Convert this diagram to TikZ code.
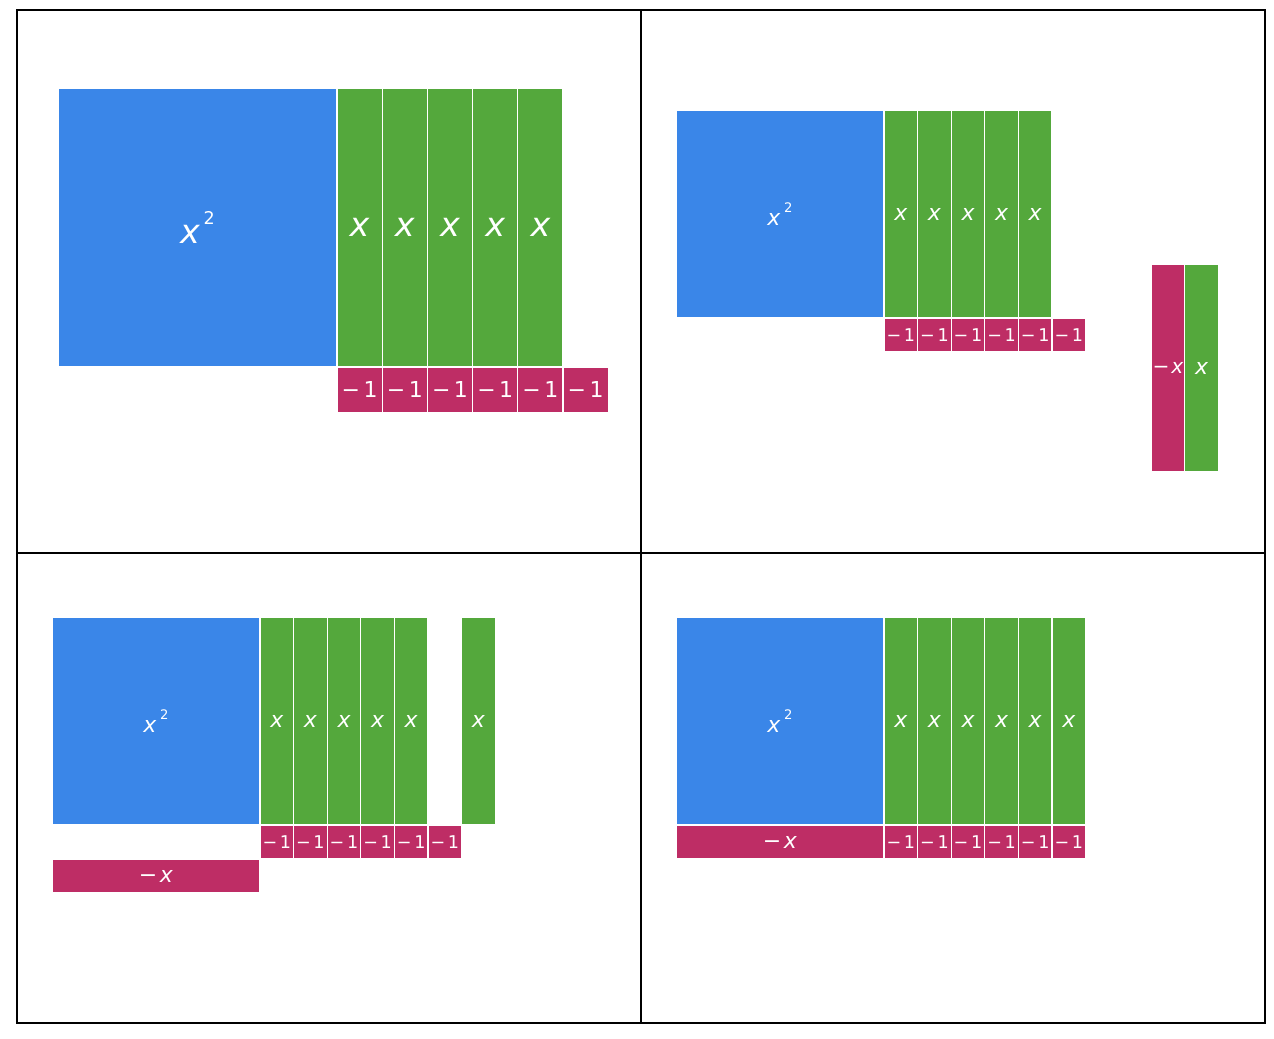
\documentclass[tikz,border=0pt]{standalone}
\usepackage{fontspec}
\setmainfont{DejaVu Sans}
\definecolor{tileblue}{RGB}{58,134,232}
\definecolor{tilegreen}{RGB}{84,168,60}
\definecolor{tilered}{RGB}{190,45,101}
\newcommand{\xsqlab}[3]{\textit{x}\hspace{2pt}\raisebox{#3}{\fontsize{#1}{#1}\selectfont\upshape #2}}
\begin{document}
\begin{tikzpicture}[x=0.02cm,y=-0.02cm,
  tile/.style={draw=white,line width=0.6pt,inner sep=0pt,text=white},
  bigsq/.style={tile,fill=tileblue,minimum width=5.58cm,minimum height=5.58cm,font=\fontsize{19}{19}\selectfont},
  bigx/.style={tile,fill=tilegreen,minimum width=0.904cm,minimum height=5.58cm,font=\fontsize{19}{19}\selectfont\itshape},
  bigone/.style={tile,fill=tilered,minimum width=0.904cm,minimum height=0.904cm,font=\fontsize{12.5}{12.5}\selectfont},
  sq/.style={tile,fill=tileblue,minimum width=4.16cm,minimum height=4.16cm,font=\fontsize{12.5}{12.5}\selectfont},
  xbar/.style={tile,fill=tilegreen,minimum width=0.672cm,minimum height=4.16cm,font=\fontsize{12.5}{12.5}\selectfont\itshape},
  one/.style={tile,fill=tilered,minimum width=0.672cm,minimum height=0.672cm,font=\fontsize{10}{10}\selectfont},
  negxh/.style={tile,fill=tilered,minimum width=4.16cm,minimum height=0.672cm,font=\fontsize{12.5}{12.5}\selectfont},
  negxv/.style={tile,fill=tilered,minimum width=0.672cm,minimum height=4.16cm,font=\fontsize{11.5}{11.5}\selectfont}]

\useasboundingbox (0,0) rectangle (1274,1038);

% frame
\draw[line width=1.2pt] (17,10) rectangle (1265,1023);
\coordinate (top) at (641,10);
\coordinate (bot) at (641,1023);
\coordinate (lft) at (17,553);
\coordinate (rgt) at (1265,553);
\draw[line width=1.2pt] (top) -- (bot);
\draw[line width=1.2pt] (lft) -- (rgt);

% top left
\node[bigsq] (sqa) at (197.5,227.5) {\xsqlab{10}{2}{11pt}};
\node[bigx] (x1a) at (359.6,227.5) {x};
\node[bigx] (x2a) at (404.8,227.5) {x};
\node[bigx] (x3a) at (450,227.5) {x};
\node[bigx] (x4a) at (495.2,227.5) {x};
\node[bigx] (x5a) at (540.4,227.5) {x};
\node[bigone] (o1a) at (359.6,389.6) {−\kern2pt1};
\node[bigone] (o2a) at (404.8,389.6) {−\kern2pt1};
\node[bigone] (o3a) at (450,389.6) {−\kern2pt1};
\node[bigone] (o4a) at (495.2,389.6) {−\kern2pt1};
\node[bigone] (o5a) at (540.4,389.6) {−\kern2pt1};
\node[bigone] (o6a) at (585.6,389.6) {−\kern2pt1};

% top right
\node[sq] (sqb) at (780,214) {\xsqlab{7.5}{2}{7.5pt}};
\node[xbar] (x1b) at (900.8,214) {x};
\node[xbar] (x2b) at (934.4,214) {x};
\node[xbar] (x3b) at (968,214) {x};
\node[xbar] (x4b) at (1001.6,214) {x};
\node[xbar] (x5b) at (1035.2,214) {x};
\node[one] (o1b) at (900.8,335) {−\kern1.5pt1};
\node[one] (o2b) at (934.4,335) {−\kern1.5pt1};
\node[one] (o3b) at (968,335) {−\kern1.5pt1};
\node[one] (o4b) at (1001.6,335) {−\kern1.5pt1};
\node[one] (o5b) at (1035.2,335) {−\kern1.5pt1};
\node[one] (o6b) at (1068.8,335) {−\kern1.5pt1};
\node[negxv] (nxb) at (1168,368) {−\kern1pt\textit{x}};
\node[xbar] (x6b) at (1201.6,368) {x};

% bottom left
\node[sq] (sqc) at (156,721) {\xsqlab{7.5}{2}{7.5pt}};
\node[xbar] (x1c) at (276.8,721) {x};
\node[xbar] (x2c) at (310.4,721) {x};
\node[xbar] (x3c) at (344,721) {x};
\node[xbar] (x4c) at (377.6,721) {x};
\node[xbar] (x5c) at (411.2,721) {x};
\node[xbar] (x6c) at (478.4,721) {x};
\node[one] (o1c) at (276.8,842) {−\kern1.5pt1};
\node[one] (o2c) at (310.4,842) {−\kern1.5pt1};
\node[one] (o3c) at (344,842) {−\kern1.5pt1};
\node[one] (o4c) at (377.6,842) {−\kern1.5pt1};
\node[one] (o5c) at (411.2,842) {−\kern1.5pt1};
\node[one] (o6c) at (444.8,842) {−\kern1.5pt1};
\node[negxh] (nxc) at (156,876) {−\kern1.5pt\textit{x}};

% bottom right
\node[sq] (sqd) at (780,721) {\xsqlab{7.5}{2}{7.5pt}};
\node[xbar] (x1d) at (900.8,721) {x};
\node[xbar] (x2d) at (934.4,721) {x};
\node[xbar] (x3d) at (968,721) {x};
\node[xbar] (x4d) at (1001.6,721) {x};
\node[xbar] (x5d) at (1035.2,721) {x};
\node[xbar] (x6d) at (1068.8,721) {x};
\node[negxh] (nxd) at (780,842) {−\kern1.5pt\textit{x}};
\node[one] (o1d) at (900.8,842) {−\kern1.5pt1};
\node[one] (o2d) at (934.4,842) {−\kern1.5pt1};
\node[one] (o3d) at (968,842) {−\kern1.5pt1};
\node[one] (o4d) at (1001.6,842) {−\kern1.5pt1};
\node[one] (o5d) at (1035.2,842) {−\kern1.5pt1};
\node[one] (o6d) at (1068.8,842) {−\kern1.5pt1};

\end{tikzpicture}
\end{document}
